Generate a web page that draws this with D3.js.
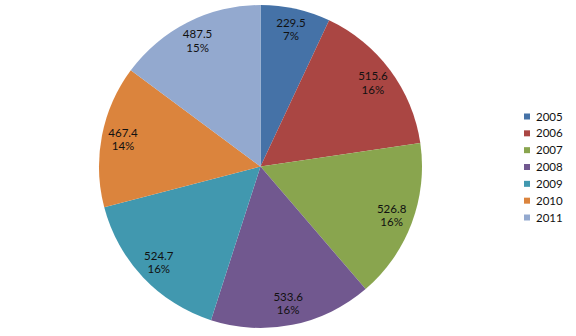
<!DOCTYPE html>
<html>
<head>
<meta charset="utf-8">
<script src="https://cdn.jsdelivr.net/npm/d3@7/dist/d3.min.js"></script>
<style>
  html, body { margin: 0; padding: 0; background: #fff; }
  svg { display: block; font-family: Lato, "Open Sans", sans-serif; }
</style>
</head>
<body>
<svg id="chart" width="576" height="336"></svg>
<script>
// Yearly values
const years = ["2005", "2006", "2007", "2008", "2009", "2010", "2011"];
const values = [229.5, 515.6, 526.8, 533.6, 524.7, 467.4, 487.5];
const colors = ["#4572A7", "#AA4643", "#89A54E", "#71588F", "#4198AF", "#DB843D", "#93A9CF"];

const svg = d3.select("#chart");
const cx = 260.5, cy = 166.5, radius = 161.5, labelRadius = 140;

const total = d3.sum(values);
const data = years.map((y, i) => ({ year: y, value: values[i], color: colors[i] }));

const pie = d3.pie().value(d => d.value).sort(null);
const arcs = pie(data);
const arc = d3.arc().innerRadius(0).outerRadius(radius);
const labelArc = d3.arc().innerRadius(labelRadius).outerRadius(labelRadius);

const g = svg.append("g").attr("transform", `translate(${cx},${cy})`);

g.selectAll("path.slice")
  .data(arcs)
  .join("path")
  .attr("class", "slice")
  .attr("d", arc)
  .attr("fill", d => d.data.color);

// Value and percentage labels inside each slice, two separate lines
const labelGroups = g.selectAll("g.lbl")
  .data(arcs)
  .join("g")
  .attr("class", "lbl")
  .attr("transform", d => `translate(${labelArc.centroid(d)})`)
  .attr("text-anchor", "middle")
  .attr("font-size", 11.5)
  .attr("fill", "#111");

labelGroups.append("text")
  .attr("y", -3)
  .text(d => d.data.value.toFixed(1));
labelGroups.append("text")
  .attr("y", 10.5)
  .text(d => Math.round(d.data.value / total * 100) + "%");

// Legend
const legendY = d3.scalePoint().domain(years).range([116.5, 217.5]);
const legend = svg.append("g");
const items = legend.selectAll("g.item")
  .data(data)
  .join("g")
  .attr("class", "item")
  .attr("transform", d => `translate(524,${legendY(d.year)})`);

items.append("rect")
  .attr("x", 0)
  .attr("y", -3)
  .attr("width", 6)
  .attr("height", 6)
  .attr("fill", d => d.color);

items.append("text")
  .attr("x", 12)
  .attr("y", 4)
  .attr("font-size", 11.5)
  .attr("fill", "#111")
  .text(d => d.year);
</script>
</body>
</html>
